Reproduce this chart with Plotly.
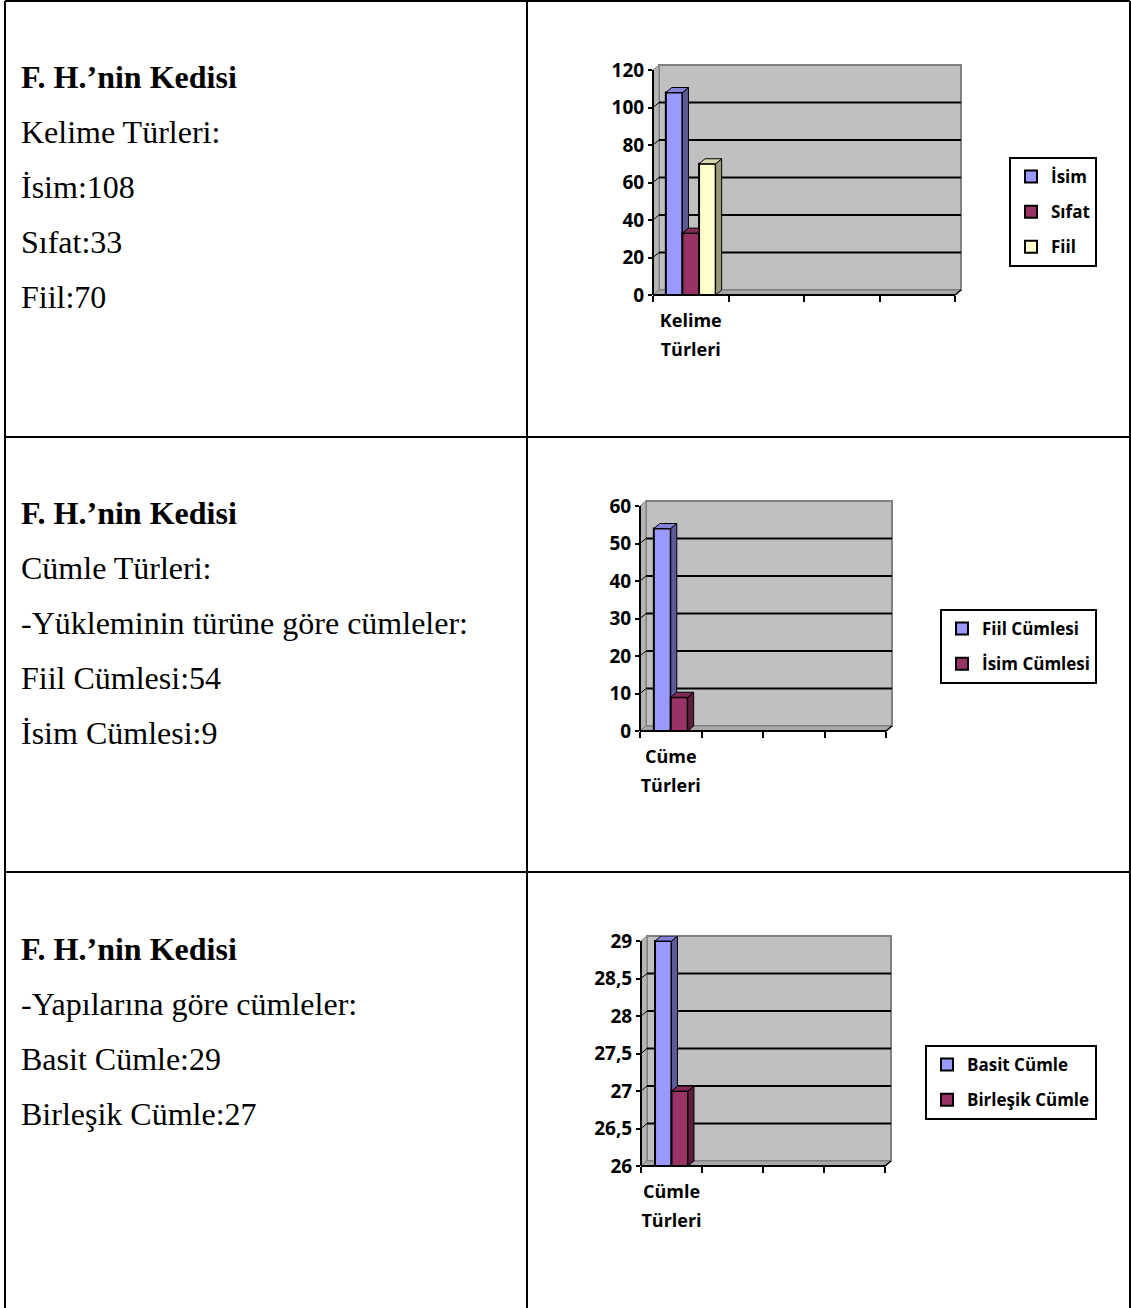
import plotly.graph_objects as go

W, H = 1131, 1308

# ---- left-column text ----
title_text = "F. H.’nin Kedisi"
row1_lines = ["Kelime Türleri:", "İsim:108", "Sıfat:33", "Fiil:70"]
row2_lines = ["Cümle Türleri:", "-Yükleminin türüne göre cümleler:", "Fiil Cümlesi:54", "İsim Cümlesi:9"]
row3_lines = ["-Yapılarına göre cümleler:", "Basit Cümle:29", "Birleşik Cümle:27"]

# ---- chart data ----
kelime_series = ["İsim", "Sıfat", "Fiil"]
kelime_values = [108, 33, 70]
kelime_colors = ["#9999FF", "#993366", "#FFFFCC"]
kelime_label = ["Kelime", "Türleri"]
kelime_ticks = [0, 20, 40, 60, 80, 100, 120]
kelime_ticktext = ["0", "20", "40", "60", "80", "100", "120"]

cumle_series = ["Fiil Cümlesi", "İsim Cümlesi"]
cumle_values = [54, 9]
cumle_colors = ["#9999FF", "#993366"]
cumle_label = ["Cüme", "Türleri"]
cumle_ticks = [0, 10, 20, 30, 40, 50, 60]
cumle_ticktext = ["0", "10", "20", "30", "40", "50", "60"]

yapi_series = ["Basit Cümle", "Birleşik Cümle"]
yapi_values = [29, 27]
yapi_colors = ["#9999FF", "#993366"]
yapi_label = ["Cümle", "Türleri"]
yapi_ticks = [26, 26.5, 27, 27.5, 28, 28.5, 29]
yapi_ticktext = ["26", "26,5", "27", "27,5", "28", "28,5", "29"]

N_SLOTS = 4          # category slots along the floor
DX, DY = 6, 5        # pseudo-3D depth in pixels

SERIF = "Liberation Serif"
SANS = "Open Sans"


def shade(hex_color, f):
    h = hex_color.lstrip("#")
    r, g, b = (int(h[i:i + 2], 16) for i in (0, 2, 4))
    return "rgb(%d,%d,%d)" % (r * f, g * f, b * f)


def clip_half(poly, inside, intersect):
    out = []
    for i in range(len(poly)):
        cur, prev = poly[i], poly[i - 1]
        if inside(cur):
            if not inside(prev):
                out.append(intersect(prev, cur))
            out.append(cur)
        elif inside(prev):
            out.append(intersect(prev, cur))
    return out


def clip_y_above(poly, c):
    def inter(p, q):
        t = (c - p[1]) / (q[1] - p[1])
        return (p[0] + t * (q[0] - p[0]), c)
    return clip_half(poly, lambda p: p[1] >= c, inter)


def clip_x_left(poly, c):
    def inter(p, q):
        t = (c - p[0]) / (q[0] - p[0])
        return (c, p[1] + t * (q[1] - p[1]))
    return clip_half(poly, lambda p: p[0] <= c, inter)


panels = [
    dict(series=kelime_series, values=kelime_values, colors=kelime_colors, label=kelime_label,
         ticks=kelime_ticks, ticktext=kelime_ticktext,
         X0=653, X1=955, Ytop=70, Ybot=295, frac=0.22, leg_top=157),
    dict(series=cumle_series, values=cumle_values, colors=cumle_colors, label=cumle_label,
         ticks=cumle_ticks, ticktext=cumle_ticktext,
         X0=640, X1=886, Ytop=506, Ybot=731, frac=0.275, leg_top=609),
    dict(series=yapi_series, values=yapi_values, colors=yapi_colors, label=yapi_label,
         ticks=yapi_ticks, ticktext=yapi_ticktext,
         X0=641, X1=885, Ytop=941, Ybot=1166, frac=0.27, leg_top=1045),
]

fig = go.Figure()
shapes = []
annotations = []


def px(x):
    return x / W


def py(y):
    return 1 - y / H


for k, p in enumerate(panels):
    n = k + 1
    xa = "x" if n == 1 else "x%d" % n
    ya = "y" if n == 1 else "y%d" % n
    leg = "legend" if n == 1 else "legend%d" % n
    X0, X1, Yt, Yb = p["X0"], p["X1"], p["Ytop"], p["Ybot"]
    ymin, ymax = p["ticks"][0], p["ticks"][-1]
    xr = N_SLOTS * (X1 + DX - X0) / (X1 - X0)
    yr = ymax + (ymax - ymin) * DY / (Yb - Yt)
    dxu = DX * N_SLOTS / (X1 - X0)
    dyu = DY * (ymax - ymin) / (Yb - Yt)

    def vy(v):
        return Yb - (v - ymin) / (ymax - ymin) * (Yb - Yt)

    # back wall, side wall, floor
    shapes.append(dict(type="rect", xref="paper", yref="paper", layer="below",
                       x0=px(X0 + DX), x1=px(X1 + DX), y0=py(Yb - DY), y1=py(Yt - DY),
                       fillcolor="#C0C0C0", line=dict(color="#808080", width=2)))
    shapes.append(dict(type="path", xref="paper", yref="paper", layer="below",
                       path="M%f,%f L%f,%f L%f,%f L%f,%f Z" % (
                           px(X0), py(Yb), px(X0), py(Yt), px(X0 + DX), py(Yt - DY), px(X0 + DX), py(Yb - DY)),
                       fillcolor="#B4B4B4", line=dict(color="#808080", width=1)))
    shapes.append(dict(type="path", xref="paper", yref="paper", layer="below",
                       path="M%f,%f L%f,%f L%f,%f L%f,%f Z" % (
                           px(X0), py(Yb), px(X1), py(Yb), px(X1 + DX), py(Yb - DY), px(X0 + DX), py(Yb - DY)),
                       fillcolor="#A8A8A8", line=dict(color="#808080", width=1)))
    # gridlines on the walls
    for t in p["ticks"][1:-1]:
        yy = vy(t)
        shapes.append(dict(type="line", xref="paper", yref="paper", layer="below",
                           x0=px(X0 + DX), x1=px(X1 + DX), y0=py(yy - DY), y1=py(yy - DY),
                           line=dict(color="black", width=2)))
        shapes.append(dict(type="line", xref="paper", yref="paper", layer="below",
                           x0=px(X0), x1=px(X0 + DX), y0=py(yy), y1=py(yy - DY),
                           line=dict(color="black", width=1)))
    # axis lines
    shapes.append(dict(type="line", xref="paper", yref="paper",
                       x0=px(X0), x1=px(X0), y0=py(Yt), y1=py(Yb),
                       line=dict(color="black", width=2)))
    shapes.append(dict(type="line", xref="paper", yref="paper",
                       x0=px(X0), x1=px(X1), y0=py(Yb), y1=py(Yb),
                       line=dict(color="black", width=2)))
    shapes.append(dict(type="line", xref="paper", yref="paper",
                       x0=px(X1), x1=px(X1 + DX), y0=py(Yb), y1=py(Yb - DY),
                       line=dict(color="black", width=1.5)))

    w = p["frac"]
    nser = len(p["series"])
    start = 0.5 - nser * w / 2
    # front faces
    for i, (name, val, col) in enumerate(zip(p["series"], p["values"], p["colors"])):
        fig.add_trace(go.Bar(
            x=[0.5], y=[val], width=[w], offset=[start + i * w - 0.5],
            name=name, marker=dict(color=col, line=dict(color="black", width=2)),
            legend=leg, legendgroup="%s-%d" % (name, n), xaxis=xa, yaxis=ya,
            hovertemplate="%s: %%{y}<extra></extra>" % name))
    # side and top faces
    for i, (val, col) in enumerate(zip(p["values"], p["colors"])):
        l = start + i * w
        r = l + w
        nxt = p["values"][i + 1] if i + 1 < nser else None
        side = [(r, ymin), (r + dxu, ymin + dyu), (r + dxu, val + dyu), (r, val)]
        if nxt is not None:
            side = clip_y_above(side, nxt)
        top = [(l, val), (r, val), (r + dxu, val + dyu), (l + dxu, val + dyu)]
        if nxt is not None and nxt >= val + dyu:
            top = clip_x_left(top, r)
        for poly, fcol in ((side, shade(col, 0.6)), (top, shade(col, 0.85))):
            if len(poly) < 3:
                continue
            fig.add_trace(go.Scatter(
                x=[q[0] for q in poly] + [poly[0][0]], y=[q[1] for q in poly] + [poly[0][1]],
                mode="lines", fill="toself", fillcolor=fcol,
                line=dict(color="black", width=1), showlegend=False, hoverinfo="skip",
                xaxis=xa, yaxis=ya))

    lab = "<br>".join('<span style="font-size:18px">%s</span>' % s for s in p["label"])
    fig.update_layout(**{
        ("xaxis" if n == 1 else "xaxis%d" % n): dict(
            domain=[px(X0), px(X1 + DX)], range=[0, xr], anchor=ya,
            showgrid=False, zeroline=False, showline=False, automargin=False,
            tickmode="array", tickvals=[0.5], ticktext=[lab], ticks="",
            ticklabelstandoff=9,
            tickfont=dict(family=SANS, size=22, color="black", weight="bold"),
            minor=dict(tickmode="array", tickvals=list(range(N_SLOTS + 1)), ticks="outside",
                       ticklen=6, tickwidth=2, tickcolor="black"),
            fixedrange=True),
        ("yaxis" if n == 1 else "yaxis%d" % n): dict(
            domain=[py(Yb), py(Yt - DY)], range=[ymin, yr], anchor=xa,
            showgrid=False, zeroline=False, showline=False, automargin=False,
            tickmode="array", tickvals=p["ticks"], ticktext=p["ticktext"],
            ticks="outside", ticklen=4, tickwidth=2, tickcolor="black",
            tickfont=dict(family=SANS, size=19, color="black", weight="bold"),
            fixedrange=True),
        leg: dict(x=px(1097), xanchor="right", y=py(p["leg_top"]), yanchor="top",
                  bgcolor="white", bordercolor="black", borderwidth=2,
                  traceorder="grouped", tracegroupgap=10,
                  font=dict(family=SANS, size=17, color="black", weight="bold")),
    })

# ---- left-column text ----
rows = [(row1_lines, 77), (row2_lines, 513), (row3_lines, 949)]
for lines, y0 in rows:
    annotations.append(dict(xref="paper", yref="paper", x=px(19), y=py(y0), xanchor="left",
                            yanchor="middle", showarrow=False, text=title_text,
                            font=dict(family=SERIF, size=32, color="black", weight="bold")))
    for j, s in enumerate(lines):
        annotations.append(dict(xref="paper", yref="paper", x=px(19), y=py(y0 + 55 * (j + 1)),
                                xanchor="left", yanchor="middle", showarrow=False, text=s,
                                font=dict(family=SERIF, size=32, color="black")))

# ---- table grid ----
for xv in (5, 527, 1130):
    shapes.append(dict(type="line", xref="paper", yref="paper", x0=px(xv), x1=px(xv),
                       y0=0, y1=py(1), line=dict(color="black", width=2)))
for yv in (1, 437, 872):
    shapes.append(dict(type="line", xref="paper", yref="paper", x0=px(5), x1=px(1130),
                       y0=py(yv), y1=py(yv), line=dict(color="black", width=2)))

fig.update_layout(
    width=W, height=H, autosize=False,
    margin=dict(l=0, r=0, t=0, b=0, pad=0, autoexpand=False),
    paper_bgcolor="white", plot_bgcolor="rgba(0,0,0,0)",
    barmode="overlay", showlegend=True,
    shapes=shapes, annotations=annotations,
)

fig.write_html("out.html")
